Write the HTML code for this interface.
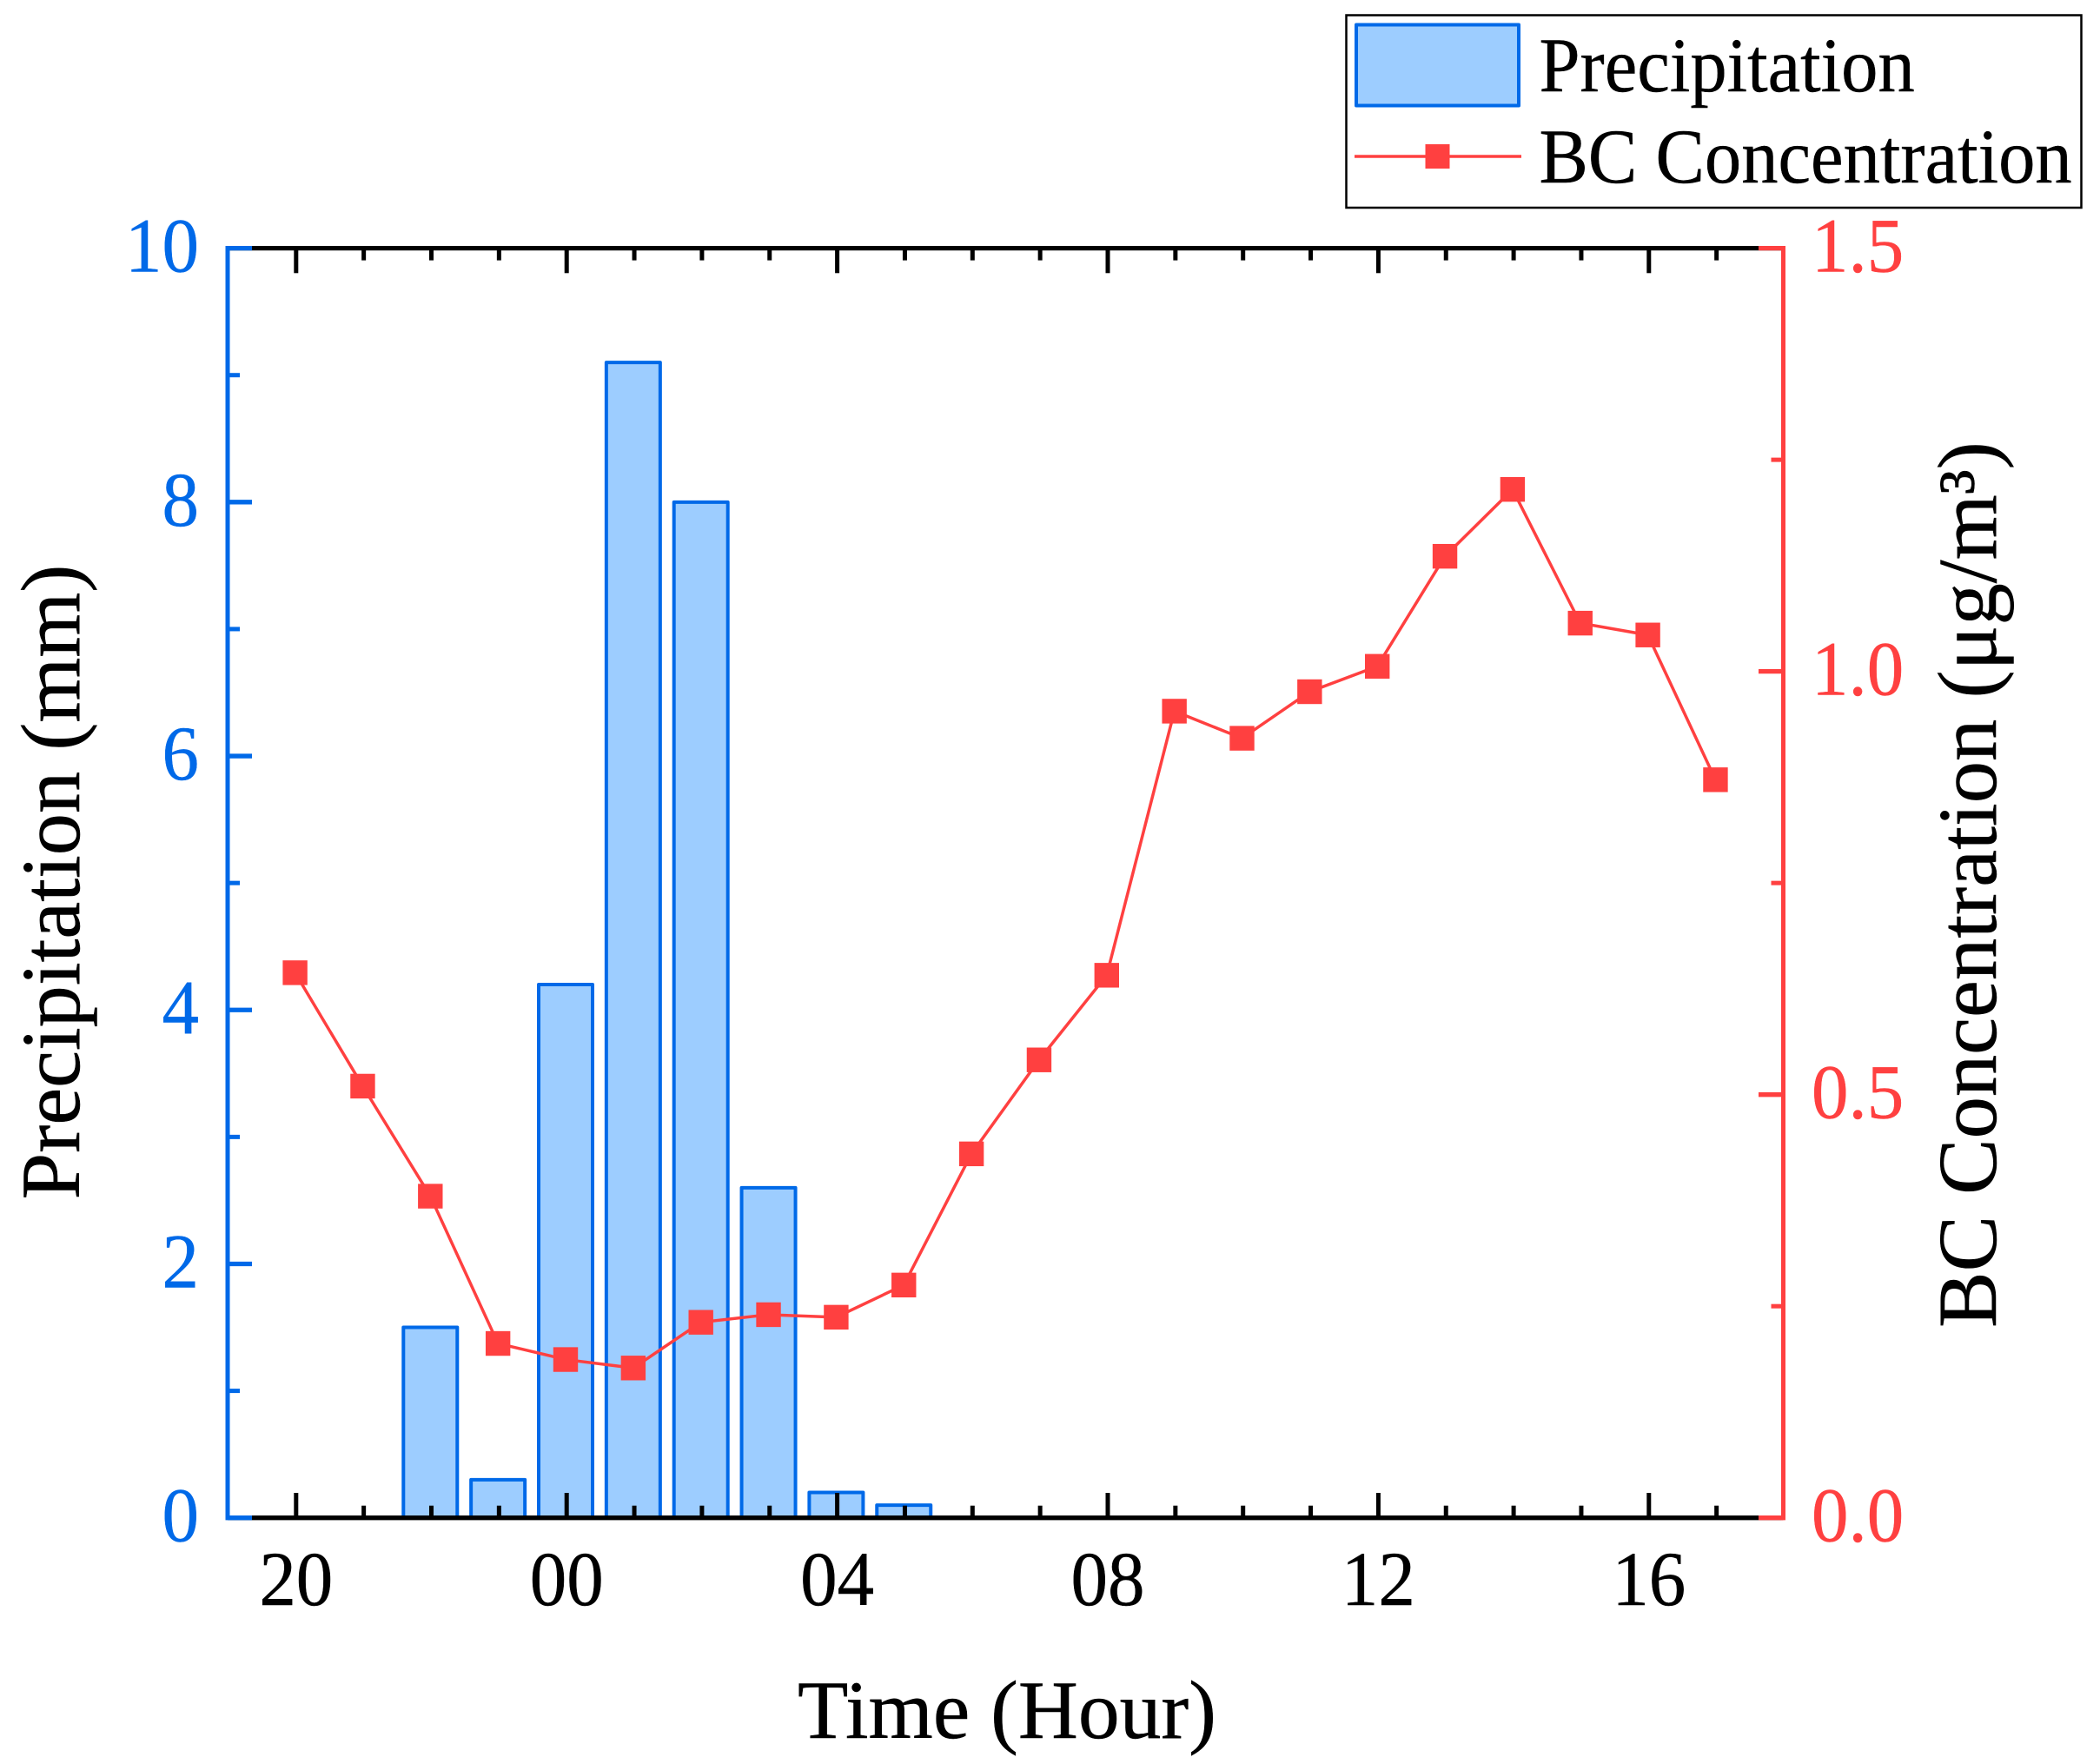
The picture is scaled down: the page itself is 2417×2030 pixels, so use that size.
<!DOCTYPE html>
<html>
<head>
<meta charset="utf-8">
<title>Precipitation and BC Concentration</title>
<style>
html,body{margin:0;padding:0;background:#fff;width:2417px;height:2030px;overflow:hidden}
svg{display:block}
text{font-family:"Liberation Serif",serif}
</style>
</head>
<body>
<svg id="chart" xmlns="http://www.w3.org/2000/svg" width="2417" height="2030" viewBox="0 0 2417 2030">
  <g id="bars"></g>
  <g id="line"></g>
  <g id="axes"></g>
  <text x="1159" y="2000" font-size="95.5" text-anchor="middle" fill="#000" stroke="#000" stroke-width="0.5">Time (Hour)</text>
  <text transform="translate(91,1015) rotate(-90)" font-size="96.4" text-anchor="middle" fill="#000" stroke="#000" stroke-width="0.5">Precipitation (mm)</text>
  <text transform="translate(2297,1018) rotate(-90)" font-size="96.6" text-anchor="middle" fill="#000" stroke="#000" stroke-width="0.5">BC Concentration (μg/m³)</text>
  <g>
    <rect x="1549.5" y="17.5" width="846" height="221.5" fill="#fff" stroke="#000" stroke-width="2.5"/>
    <rect x="1561" y="28.5" width="187" height="93" fill="#9dcdff" stroke="#0069e8" stroke-width="4" stroke-linejoin="round"/>
    <text transform="translate(1771.5,105) scale(1,1.05)" font-size="84.6" fill="#000" stroke="#000" stroke-width="0.4">Precipitation</text>
    <line x1="1559" y1="180" x2="1751" y2="180" stroke="#ff4040" stroke-width="3.5"/>
    <rect x="1640.5" y="166" width="28" height="28" fill="#ff4040"/>
    <text transform="translate(1771.5,210) scale(1,1.05)" font-size="84.6" fill="#000" stroke="#000" stroke-width="0.4">BC Concentration</text>
  </g>
</svg>
<script>
var hours = ['20','21','22','23','00','01','02','03','04','05','06','07','08','09','10','11','12','13','14','15','16','17'];
var precipitation = [0,0,1.5,0.3,4.2,9.1,8,2.6,0.2,0.1,0,0,0,0,0,0,0,0,0,0,0,0];
var bcConcentration = [0.644,0.51,0.38,0.206,0.187,0.177,0.231,0.24,0.237,0.275,0.43,0.541,0.641,0.953,0.921,0.976,1.006,1.136,1.215,1.057,1.043,0.872];
var leftTicks = ['0','2','4','6','8','10'];
var rightTicks = ['0.0','0.5','1.0','1.5'];

var NS = 'http://www.w3.org/2000/svg';
var BLUE = '#0069e8', RED = '#ff4040';
var plotLeft = 262, plotRight = 2052.5, plotTop = 285.6, plotBottom = 1746.7;
function xScale(i) { return 340.8 + i * 77.85; }
function xData(i) { return xScale(i) - 1.2; }
function yLeft(v) { return plotBottom - v * (plotBottom - plotTop) / 10; }
function yRight(v) { return plotBottom - v * (plotBottom - plotTop) / 1.5; }
function make(tag, attrs, parent) {
  var el = document.createElementNS(NS, tag);
  for (var k in attrs) el.setAttribute(k, attrs[k]);
  parent.appendChild(el);
  return el;
}
var barsG = document.getElementById('bars');
var lineG = document.getElementById('line');
var axesG = document.getElementById('axes');

precipitation.forEach(function (v, i) {
  if (v <= 0) return;
  var el = make('rect', {x: xData(i) - 31, y: yLeft(v), width: 62, height: yLeft(0) - yLeft(v), fill: '#9dcdff', stroke: BLUE, 'stroke-width': 4, 'stroke-linejoin': 'round'}, barsG);
  
  
});

var pts = bcConcentration.map(function (v, i) { return xData(i) + ',' + yRight(v); }).join(' ');
var poly = make('polyline', {points: pts, fill: 'none', stroke: RED, 'stroke-width': 3.5}, lineG);


bcConcentration.forEach(function (v, i) {
  var el = make('rect', {x: xData(i) - 14.2, y: yRight(v) - 14.2, width: 28.4, height: 28.4, fill: RED}, lineG);
  
  
});

function seg(x1, y1, x2, y2, color, w, name) {
  var el = make('line', {x1: x1, y1: y1, x2: x2, y2: y2, stroke: color, 'stroke-width': w}, axesG);
  
  
  return el;
}
seg(plotLeft, plotBottom, plotRight, plotBottom, '#000', 5.3, 'x-axis-bottom-line');
seg(plotLeft, plotTop, plotRight, plotTop, '#000', 5.3, 'x-axis-top-line');

hours.forEach(function (h, i) {
  var major = i % 4 === 0;
  var len = major ? 28.7 : 14;
  var x = xScale(i);
  seg(x, plotBottom, x, plotBottom - len, '#000', 5, 'x-tick');
  seg(x, plotTop, x, plotTop + len, '#000', 5, 'x-tick-top');
  if (major) {
    var t = make('text', {transform: 'translate(' + x + ',1847) scale(1,1.05)', 'font-size': 85, 'text-anchor': 'middle', fill: '#000', stroke: '#000', 'stroke-width': 0.4}, axesG);
    
    
    t.textContent = h;
  }
});

seg(plotLeft, plotTop - 2.65, plotLeft, plotBottom + 2.65, BLUE, 5, 'left-y-axis-line');
seg(plotRight, plotTop - 2.65, plotRight, plotBottom + 2.65, RED, 5, 'right-y-axis-line');

leftTicks.forEach(function (label) {
  var v = parseFloat(label);
  var y = yLeft(v);
  seg(plotLeft, y, plotLeft + 28, y, BLUE, 5.3, 'left-y-tick');
  var t = make('text', {transform: 'translate(229,' + (y + 27) + ') scale(1,1.05)', 'font-size': 85, 'text-anchor': 'end', fill: BLUE, stroke: BLUE, 'stroke-width': 0.4}, axesG);
  
  
  t.textContent = label;
  if (v < 10) {
    var ym = yLeft(v + 1);
    seg(plotLeft, ym, plotLeft + 14, ym, BLUE, 5, 'left-y-minor-tick');
  }
});
rightTicks.forEach(function (label) {
  var v = parseFloat(label);
  var y = yRight(v);
  seg(plotRight, y, plotRight - 28.5, y, RED, 5.3, 'right-y-tick');
  var t = make('text', {transform: 'translate(2085,' + (y + 27) + ') scale(1,1.05)', 'font-size': 85, 'text-anchor': 'start', fill: RED, stroke: RED, 'stroke-width': 0.4}, axesG);
  
  
  t.textContent = label;
  if (v < 1.5) {
    var ym = yRight(v + 0.25);
    seg(plotRight, ym, plotRight - 14, ym, RED, 5, 'right-y-minor-tick');
  }
});
</script>
</body>
</html>
